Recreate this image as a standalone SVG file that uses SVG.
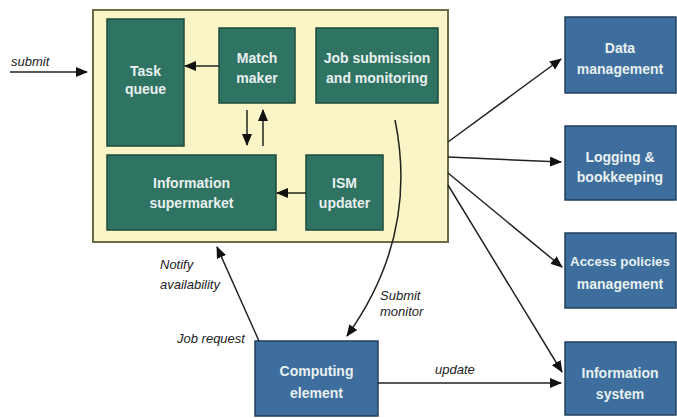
<svg xmlns="http://www.w3.org/2000/svg" width="677" height="418" viewBox="0 0 677 418">
<style>
.green{fill:#2f7462;stroke:#1e4a3d;stroke-width:1.5}
.blue{fill:#3d6e9e;stroke:#22405e;stroke-width:1.5}
.yellow{fill:#faf5c6;stroke:#6b6b48;stroke-width:2}
.bt{font-family:"Liberation Sans",Arial,sans-serif;font-weight:bold;font-size:14px;fill:#e9f0f0;text-anchor:middle}
.lab{font-family:"Liberation Sans",Arial,sans-serif;font-style:italic;font-size:13px;fill:#222}
.con{fill:none;stroke:#222;stroke-width:1.5}
</style>
<defs>
<marker id="ah" viewBox="0 0 12 10" refX="11" refY="5" markerWidth="12" markerHeight="10" markerUnits="userSpaceOnUse" orient="auto">
<path d="M0,0 L12,5 L0,10 Z" fill="#111"/>
</marker>
</defs>
<rect width="677" height="418" fill="#ffffff"/>
<g id="container">
<rect class="yellow" x="93" y="10" width="355" height="232"/>
</g>
<g id="task-queue">
<rect class="green" x="107" y="19" width="77" height="127"/>
<text class="bt" x="145.5" y="76">Task</text>
<text class="bt" x="145.5" y="94">queue</text>
</g>
<g id="match-maker">
<rect class="green" x="219" y="28" width="76" height="75"/>
<text class="bt" x="257" y="63">Match</text>
<text class="bt" x="257" y="83">maker</text>
</g>
<g id="job-submission">
<rect class="green" x="316" y="28" width="122" height="75"/>
<text class="bt" x="377" y="63">Job submission</text>
<text class="bt" x="377" y="83">and monitoring</text>
</g>
<g id="information-supermarket">
<rect class="green" x="107" y="155" width="169" height="75"/>
<text class="bt" x="191.5" y="188">Information</text>
<text class="bt" x="191.5" y="208">supermarket</text>
</g>
<g id="ism-updater">
<rect class="green" x="306" y="155" width="77" height="75"/>
<text class="bt" x="344.5" y="188">ISM</text>
<text class="bt" x="344.5" y="208">updater</text>
</g>
<g id="data-management">
<rect class="blue" x="565" y="17" width="111" height="76"/>
<text class="bt" x="620" y="53">Data</text>
<text class="bt" x="620" y="74">management</text>
</g>
<g id="logging">
<rect class="blue" x="565" y="126" width="111" height="74"/>
<text class="bt" x="620" y="162">Logging &amp;</text>
<text class="bt" x="620" y="182">bookkeeping</text>
</g>
<g id="access-policies">
<rect class="blue" x="565" y="233" width="111" height="75"/>
<text class="bt" x="620" y="266" style="font-size:13.3px">Access policies</text>
<text class="bt" x="620" y="289">management</text>
</g>
<g id="information-system">
<rect class="blue" x="565" y="342" width="111" height="73"/>
<text class="bt" x="620" y="378">Information</text>
<text class="bt" x="620" y="399">system</text>
</g>
<g id="computing-element">
<rect class="blue" x="255" y="341" width="123" height="75"/>
<text class="bt" x="316.5" y="376">Computing</text>
<text class="bt" x="316.5" y="398">element</text>
</g>
<g id="connectors">
<line class="con" x1="10" y1="72" x2="87" y2="72" marker-end="url(#ah)"/>
<line class="con" x1="219" y1="66" x2="185" y2="66" marker-end="url(#ah)"/>
<line class="con" x1="247" y1="110" x2="247" y2="145" marker-end="url(#ah)"/>
<line class="con" x1="263" y1="146" x2="263" y2="110" marker-end="url(#ah)"/>
<line class="con" x1="306" y1="193" x2="277" y2="193" marker-end="url(#ah)"/>
<path class="con" d="M395,120 C409,188 400,262 347,336" marker-end="url(#ah)"/>
<line class="con" x1="259" y1="341" x2="217" y2="247" marker-end="url(#ah)"/>
<line class="con" x1="378" y1="383" x2="561" y2="383" marker-end="url(#ah)"/>
<line class="con" x1="448" y1="142" x2="561" y2="59" marker-end="url(#ah)"/>
<line class="con" x1="448" y1="157" x2="561" y2="162" marker-end="url(#ah)"/>
<line class="con" x1="448" y1="173" x2="562" y2="267" marker-end="url(#ah)"/>
<line class="con" x1="448" y1="185" x2="562" y2="372" marker-end="url(#ah)"/>
</g>
<g id="labels">
<text class="lab" x="11" y="66">submit</text>
<text class="lab" x="160" y="269">Notify</text>
<text class="lab" x="160" y="289">availability</text>
<text class="lab" x="177" y="343">Job request</text>
<text class="lab" x="380" y="300">Submit</text>
<text class="lab" x="380" y="316">monitor</text>
<text class="lab" x="435" y="374">update</text>
</g>
</svg>
